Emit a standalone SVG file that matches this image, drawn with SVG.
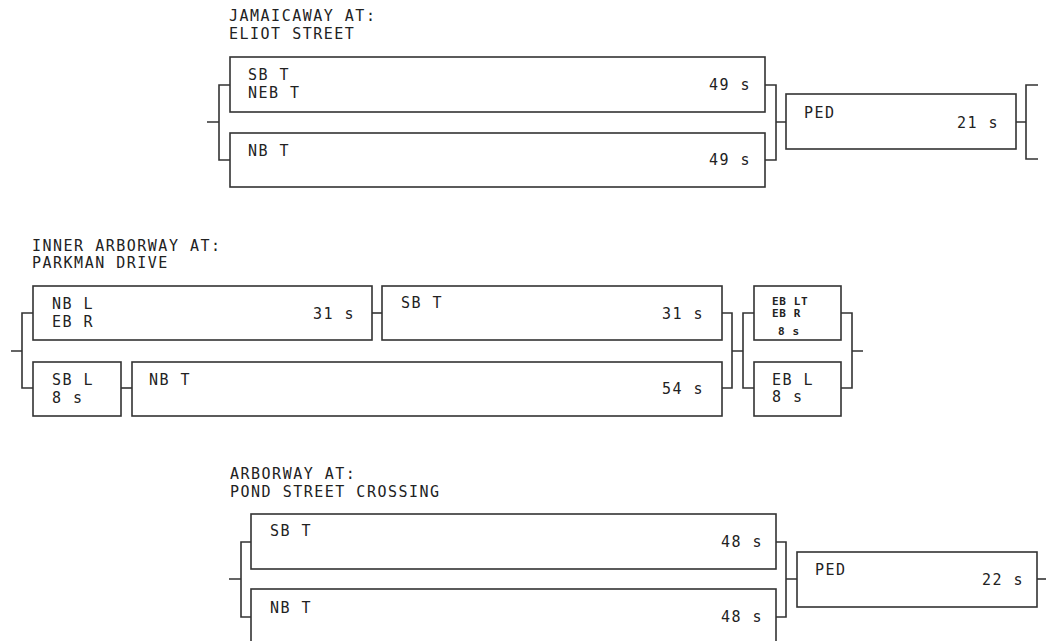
<svg xmlns="http://www.w3.org/2000/svg" width="1046" height="641" viewBox="0 0 1046 641">
<style>
.bg{fill:#fff}
.box{fill:#fff;stroke:#333;stroke-width:1.6}
.wire{fill:none;stroke:#333;stroke-width:1.6}
text{font-family:"DejaVu Sans Mono","Liberation Mono",monospace;font-size:15px;letter-spacing:1.5px;fill:#222}
.r{text-anchor:end}
.sm{font-size:11px;font-weight:bold;letter-spacing:0.6px}
</style>
<rect class="bg" x="0" y="0" width="1046" height="641"/>

<g id="title1">
<text x="229" y="21">JAMAICAWAY AT:</text>
<text x="229" y="39">ELIOT STREET</text>
</g>
<g id="n1-sbt">
<rect class="box" x="230" y="57" width="535" height="55"/>
<text x="248" y="80">SB T</text>
<text x="248" y="98">NEB T</text>
<text class="r" x="751" y="90">49 s</text>
</g>
<g id="n1-nbt">
<rect class="box" x="230" y="133" width="535" height="54"/>
<text x="248" y="156">NB T</text>
<text class="r" x="751" y="165">49 s</text>
</g>
<g id="n1-ped">
<rect class="box" x="786" y="94" width="230" height="55"/>
<text x="804" y="118">PED</text>
<text class="r" x="999" y="128">21 s</text>
</g>

<g id="title2">
<text x="32" y="251">INNER ARBORWAY AT:</text>
<text x="32" y="268">PARKMAN DRIVE</text>
</g>
<g id="n2-nbl">
<rect class="box" x="33" y="286" width="339" height="54"/>
<text x="52" y="309">NB L</text>
<text x="52" y="327">EB R</text>
<text class="r" x="355" y="319">31 s</text>
</g>
<g id="n2-sbt">
<rect class="box" x="382" y="286" width="340" height="54"/>
<text x="401" y="308">SB T</text>
<text class="r" x="704" y="319">31 s</text>
</g>
<g id="n2-sbl">
<rect class="box" x="33" y="362" width="88" height="54"/>
<text x="52" y="385">SB L</text>
<text x="52" y="403">8 s</text>
</g>
<g id="n2-nbt">
<rect class="box" x="132" y="362" width="590" height="54"/>
<text x="149" y="385">NB T</text>
<text class="r" x="704" y="394">54 s</text>
</g>
<g id="n2-eblt">
<rect class="box" x="754" y="286" width="87" height="54"/>
<text class="sm" x="772" y="305">EB LT</text>
<text class="sm" x="772" y="317">EB R</text>
<text class="sm" x="778" y="335">8 s</text>
</g>
<g id="n2-ebl">
<rect class="box" x="754" y="362" width="87" height="54"/>
<text x="772" y="385">EB L</text>
<text x="772" y="402">8 s</text>
</g>

<g id="title3">
<text x="230" y="479">ARBORWAY AT:</text>
<text x="230" y="497">POND STREET CROSSING</text>
</g>
<g id="n3-sbt">
<rect class="box" x="251" y="514" width="525" height="55"/>
<text x="270" y="536">SB T</text>
<text class="r" x="763" y="547">48 s</text>
</g>
<g id="n3-nbt">
<rect class="box" x="251" y="589" width="525" height="56"/>
<text x="270" y="613">NB T</text>
<text class="r" x="763" y="622">48 s</text>
</g>
<g id="n3-ped">
<rect class="box" x="797" y="552" width="240" height="55"/>
<text x="815" y="575">PED</text>
<text class="r" x="1024" y="585">22 s</text>
</g>

<g id="connectors" class="wire">
<path d="M207,122 H219 M230,85 H219 V160 H230"/>
<path d="M765,85 H776 V160 H765 M776,122 H786"/>
<path d="M1016,122 H1026 M1038,85 H1026 V159 H1038"/>

<path d="M11,351 H22 M33,313 H22 V388 H33"/>
<path d="M372,313 H382"/>
<path d="M121,388 H132"/>
<path d="M722,313 H732 V388 H722 M732,351 H743 M754,313 H743 V388 H754"/>
<path d="M841,313 H852 V388 H841 M852,351 H863"/>

<path d="M229,579 H241 M251,542 H241 V617 H251"/>
<path d="M776,542 H786 V617 H776 M786,579 H797"/>
<path d="M1037,579 H1046"/>
</g>
</svg>
